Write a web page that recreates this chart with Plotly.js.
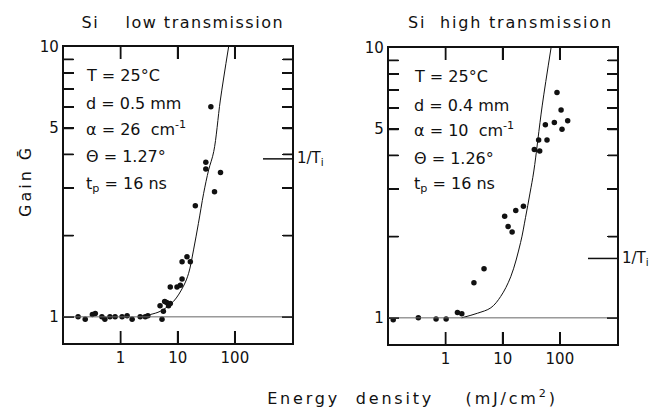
<!DOCTYPE html>
<html>
<head>
<meta charset="utf-8">
<script src="https://cdn.plot.ly/plotly-3.0.1.min.js"></script>
<style>
html,body{margin:0;padding:0;background:#fff;}
#chart{width:652px;height:410px;}
g.annotation[data-index="0"] text{letter-spacing:1.5px;}
g.annotation[data-index="1"] text{letter-spacing:1.8px;}
g.annotation[data-index="2"] text{letter-spacing:2.8px;}
g.annotation[data-index="3"] text{letter-spacing:3px;}
</style>
</head>
<body>
<div id="chart"></div>
<script>
// ---- data ----
const leftE = [0.18,0.24,0.32,0.36,0.47,0.53,0.65,0.80,1.06,1.3,1.59,2.2,2.7,3.0,
               5.3,5.6,4.9,5.9,6.4,6.9,7.4,7.4,9.7,11.1,11.9,11.9,14.5,16.6,20.3,44,31,31,56,38];
const leftG = [1.0,0.98,1.02,1.03,1.0,0.98,1.0,1.0,1.0,1.01,0.98,1.0,1.0,1.01,
               0.98,1.05,1.1,1.14,1.13,1.1,1.12,1.29,1.29,1.31,1.38,1.6,1.67,1.6,2.58,2.91,3.74,3.53,3.43,6.0];
const leftFitE = [2.0,3.3,5.0,8.4,12.6,15.5,18.9,23,28.4,34.7,42.7,55.7,77.6];
const leftFitG = [1.0,1.02,1.05,1.14,1.30,1.45,1.77,2.22,2.87,3.5,4.1,6.36,10];

const rightE = [0.121,0.333,0.68,1.02,1.61,1.92,3.13,4.7,10.8,12.4,14.6,16.9,23,
                35.7,44.3,42.5,59.5,55.7,80,109,137,105,89];
const rightG = [0.983,1.0,0.99,0.99,1.047,1.035,1.35,1.52,2.38,2.18,2.08,2.5,2.59,
                4.21,4.15,4.56,4.56,5.19,5.3,5.0,5.37,5.89,6.84];
const rightFitE = [1.9,3.6,6.2,9.2,13.8,20.5,25,30,35,49,70];
const rightFitG = [1.0,1.04,1.09,1.2,1.42,1.9,2.35,2.9,3.5,6.1,10];

const leftInvT = 3.85;
const rightInvT = 1.66;

const xTickVals = [1,10,100];
const xTickText = ['1','10','100'];
const yLabelVals = [1,5,10];
const yLabelText = ['1','5','10'];
const yMinorVals = [2,3,4,5,6,7,8,9];

const leftInfo = ['T = 25°C','d = 0.5 mm','α = 26  cm<sup>-1</sup>','Θ = 1.27°','t<sub>p</sub> = 16 ns'];
const rightInfo = ['T = 25°C','d = 0.4 mm','α = 10  cm<sup>-1</sup>','Θ = 1.26°','t<sub>p</sub> = 16 ns'];

// ---- styling ----
const FONT = "'DejaVu Sans',sans-serif";
const W = 652, H = 410;
const INK = '#111';
const X_RANGE = [-1, 3];
const Y_RANGE = [Math.log10(0.8), 1];
const PLOT_W = 228.5, PLOT_H = 296;

function xaxis(l, r, anchor) {
  return {
    type:'log', range:X_RANGE, domain:[l/W, r/W], anchor:anchor,
    tickmode:'array', tickvals:xTickVals, ticktext:xTickText,
    ticks:'inside', ticklen:12, tickwidth:1.5, tickcolor:INK,
    showline:true, linecolor:INK, linewidth:1.6, mirror:'ticks',
    showgrid:false, zeroline:false,
    tickfont:{family:FONT, size:15, color:INK}
  };
}
function yaxis(t, b, anchor) {
  return {
    type:'log', range:Y_RANGE, domain:[(H-b)/H, (H-t)/H], anchor:anchor,
    tickmode:'array', tickvals:yLabelVals, ticktext:yLabelText,
    ticks:'inside', ticklen:10, tickwidth:1.5, tickcolor:INK,
    minor:{tickmode:'array', tickvals:yMinorVals, ticks:'inside', ticklen:10, tickwidth:1.5, tickcolor:INK, showgrid:false},
    showline:true, linecolor:INK, linewidth:1.6, mirror:'ticks',
    showgrid:false, zeroline:false,
    tickfont:{family:FONT, size:15, color:INK}
  };
}

// inward tick marks drawn as line segments, from the tick values and axis ranges
function tickTrace(xa, ya) {
  const dyX = 12 * (Y_RANGE[1]-Y_RANGE[0]) / PLOT_H;
  const dxY = 10 * (X_RANGE[1]-X_RANGE[0]) / PLOT_W;
  const yb = Math.pow(10, Y_RANGE[0]), yt = Math.pow(10, Y_RANGE[1]);
  const xl = Math.pow(10, X_RANGE[0]), xr = Math.pow(10, X_RANGE[1]);
  const x = [], y = [];
  xTickVals.forEach(v=>{
    x.push(v, v, null); y.push(yb, yb*Math.pow(10,dyX), null);
    x.push(v, v, null); y.push(yt, yt/Math.pow(10,dyX), null);
  });
  yMinorVals.forEach(v=>{
    x.push(xl, xl*Math.pow(10,dxY), null); y.push(v, v, null);
    x.push(xr, xr/Math.pow(10,dxY*0.9), null); y.push(v, v, null);
  });
  return {x:x, y:y, xaxis:xa, yaxis:ya, mode:'lines', connectgaps:false,
          line:{color:INK, width:1.8}, hoverinfo:'skip', showlegend:false};
}

const dots = {mode:'markers', marker:{color:INK, size:5.5}, hoverinfo:'skip', showlegend:false};
const fit = {mode:'lines', line:{color:INK, width:1, shape:'spline'}, hoverinfo:'skip', showlegend:false};

const traces = [
  tickTrace('x','y'),
  tickTrace('x2','y2'),
  Object.assign({x:leftFitE, y:leftFitG, xaxis:'x', yaxis:'y'}, fit),
  Object.assign({x:leftE, y:leftG, xaxis:'x', yaxis:'y'}, dots),
  Object.assign({x:rightFitE, y:rightFitG, xaxis:'x2', yaxis:'y2'}, fit),
  Object.assign({x:rightE, y:rightG, xaxis:'x2', yaxis:'y2'}, dots)
];

const annotations = [];
function ann(o){ annotations.push(Object.assign({showarrow:false, font:{family:FONT, size:16, color:INK}}, o)); }

ann({text:'Si    low transmission', xref:'paper', yref:'paper', x:183/W, y:(H-22)/H, xanchor:'center', yanchor:'middle'});
ann({text:'Si  high transmission', xref:'paper', yref:'paper', x:510/W, y:(H-22)/H, xanchor:'center', yanchor:'middle'});
ann({text:'Energy  density    (mJ/cm<sup>2</sup>)', xref:'paper', yref:'paper', x:412/W, y:(H-397)/H, xanchor:'center', yanchor:'middle'});
ann({text:'Gain Ḡ', xref:'paper', yref:'paper', x:25/W, y:(H-152)/H, textangle:-90, xanchor:'center', yanchor:'top'});

const leftRows = [75,103,129,156,185];
const rightRows = [77,105,130,158,185];
leftInfo.forEach((t,i)=>ann({text:t, xref:'paper', yref:'paper', x:84/W, y:(H-leftRows[i])/H, xanchor:'left', yanchor:'middle'}));
rightInfo.forEach((t,i)=>ann({text:t, xref:'paper', yref:'paper', x:412/W, y:(H-rightRows[i])/H, xanchor:'left', yanchor:'middle'}));

ann({text:'1/T<sub>i</sub>', xref:'x domain', yref:'y', x:1.015, y:Math.log10(leftInvT), xanchor:'left', yanchor:'middle', font:{family:FONT, size:15, color:INK}});
ann({text:'1/T<sub>i</sub>', xref:'x2 domain', yref:'y2', x:1.015, y:Math.log10(rightInvT), xanchor:'left', yanchor:'middle', font:{family:FONT, size:15, color:INK}});

const shapes = [
  {type:'line', xref:'x domain', yref:'y', x0:0, x1:1, y0:1, y1:1, line:{color:'#666', width:1}},
  {type:'line', xref:'x2 domain', yref:'y2', x0:0, x1:1, y0:1, y1:1, line:{color:'#666', width:1}},
  {type:'line', xref:'x domain', yref:'y', x0:0.873, x1:1, y0:leftInvT, y1:leftInvT, line:{color:INK, width:1.5}},
  {type:'line', xref:'x2 domain', yref:'y2', x0:0.873, x1:1, y0:rightInvT, y1:rightInvT, line:{color:INK, width:1.5}}
];

const layout = {
  width:W, height:H,
  margin:{l:0, r:0, t:0, b:0},
  paper_bgcolor:'#fff', plot_bgcolor:'#fff',
  showlegend:false,
  xaxis:xaxis(63.5,292,'y'),
  yaxis:yaxis(47,343,'x'),
  xaxis2:xaxis(388.5,617,'y2'),
  yaxis2:yaxis(48,344,'x2'),
  annotations:annotations,
  shapes:shapes
};

Plotly.newPlot('chart', traces, layout, {staticPlot:true, displayModeBar:false});
</script>
</body>
</html>
